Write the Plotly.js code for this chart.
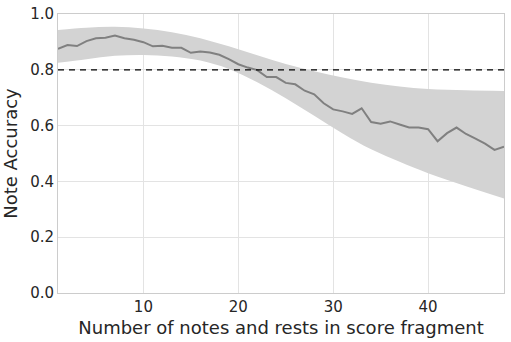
<!DOCTYPE html>
<html>
<head>
<meta charset="utf-8">
<script src="https://cdn.plot.ly/plotly-3.0.1.min.js"></script>
<style>
  html, body { margin: 0; padding: 0; background: #fff; }
  #chart { width: 511px; height: 342px; }
</style>
</head>
<body>
<div id="chart"></div>
<script>
// fragment length (notes + rests) and mean accuracy
var lengths = [1, 2, 3, 4, 5, 6, 7, 8, 9, 10, 11, 12, 13, 14, 15, 16, 17, 18, 19, 20, 21, 22, 23, 24,
  25, 26, 27, 28, 29, 30, 31, 32, 33, 34, 35, 36, 37, 38, 39, 40, 41, 42, 43, 44, 45, 46, 47, 48];
var accuracy = [0.875, 0.889, 0.885, 0.903, 0.913, 0.915, 0.923, 0.913, 0.908, 0.899, 0.884, 0.886,
  0.879, 0.879, 0.861, 0.866, 0.862, 0.854, 0.838, 0.820, 0.808, 0.799, 0.774, 0.774,
  0.753, 0.748, 0.725, 0.712, 0.680, 0.658, 0.651, 0.642, 0.662, 0.613, 0.607, 0.615,
  0.604, 0.593, 0.593, 0.587, 0.544, 0.573, 0.593, 0.570, 0.553, 0.535, 0.513, 0.524];

// confidence band
var bandX = [1, 4, 7, 10, 13, 16, 19, 22, 25, 28, 31, 34, 37, 40, 44, 48];
var bandUpper = [0.943, 0.951, 0.954, 0.948, 0.935, 0.913, 0.884, 0.852, 0.821, 0.795, 0.772, 0.754,
  0.740, 0.731, 0.727, 0.724];
var bandLower = [0.825, 0.838, 0.850, 0.853, 0.848, 0.833, 0.803, 0.755, 0.698, 0.635, 0.572, 0.515,
  0.470, 0.429, 0.383, 0.339];

var threshold = 0.8;

var lower = {
  x: bandX, y: bandLower, type: 'scatter', mode: 'lines',
  line: { width: 0, shape: 'spline', color: 'lightgray' },
  hoverinfo: 'skip', showlegend: false
};
var upper = {
  x: bandX, y: bandUpper, type: 'scatter', mode: 'lines',
  fill: 'tonexty', fillcolor: 'lightgray',
  line: { width: 0, shape: 'spline', color: 'lightgray' },
  hoverinfo: 'skip', showlegend: false
};
var mean = {
  x: lengths, y: accuracy, type: 'scatter', mode: 'lines',
  line: { color: 'gray', width: 2 },
  showlegend: false
};
var dashed = {
  x: [lengths[0], lengths[lengths.length - 1]], y: [threshold, threshold],
  type: 'scatter', mode: 'lines',
  line: { color: 'black', width: 1.3, dash: '6px,5px' },
  showlegend: false
};

var font = { family: 'DejaVu Sans', color: '#262626' };

var layout = {
  width: 511, height: 342,
  margin: { l: 58, r: 7, t: 14, b: 49 },
  paper_bgcolor: '#fff', plot_bgcolor: '#fff',
  font: font,
  xaxis: {
    range: [1, 48], tickvals: [10, 20, 30, 40],
    tickfont: { family: 'DejaVu Sans', size: 15, color: '#262626' },
    showgrid: true, gridcolor: '#e3e3e3', gridwidth: 1,
    zeroline: false, showline: true, linecolor: '#cccccc', mirror: true,
    ticks: '', ticklen: 0,
    title: { text: 'Number of notes and rests in score fragment',
      font: { family: 'DejaVu Sans', size: 18, color: '#262626' }, standoff: 6 }
  },
  yaxis: {
    range: [0, 1], dtick: 0.2, tickformat: '.1f',
    tickfont: { family: 'DejaVu Sans', size: 15, color: '#262626' },
    showgrid: true, gridcolor: '#e3e3e3', gridwidth: 1,
    zeroline: false, showline: true, linecolor: '#cccccc', mirror: true,
    ticks: '', ticklen: 0,
    title: { text: 'Note Accuracy',
      font: { family: 'DejaVu Sans', size: 18, color: '#262626' }, standoff: 8 }
  }
};

Plotly.newPlot('chart', [lower, upper, mean, dashed], layout, { displayModeBar: false, staticPlot: true });
</script>
</body>
</html>
